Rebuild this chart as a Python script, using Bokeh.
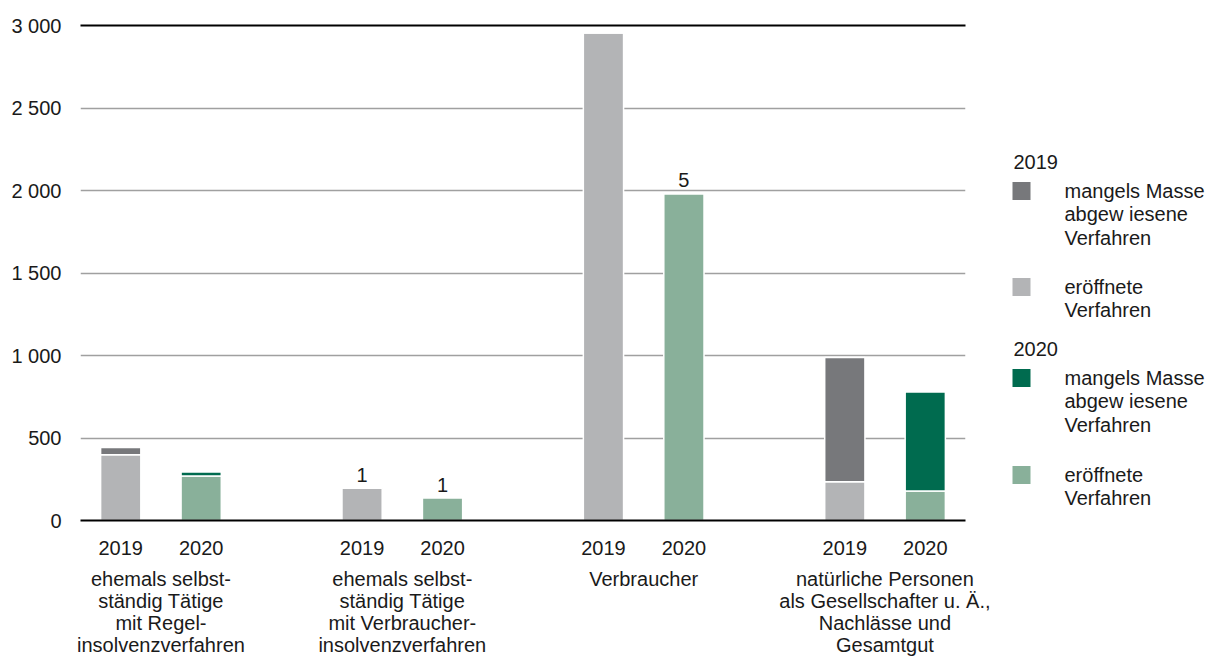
from bokeh.plotting import figure
from bokeh.models import Range1d, FixedTicker, LinearAxis, ColumnDataSource
from bokeh.layouts import row
from bokeh.embed import file_html
from bokeh.resources import INLINE
from bokeh.core.properties import value

# ---------------- data ----------------
groups = [
    "ehemals selbst-\nständig Tätige\nmit Regel-\ninsolvenzverfahren",
    "ehemals selbst-\nständig Tätige\nmit Verbraucher-\ninsolvenzverfahren",
    "Verbraucher",
    "natürliche Personen\nals Gesellschafter u. Ä.,\nNachlässe und\nGesamtgut",
]
years = ["2019", "2020"]
opened_2019 = [398, 196, 2955, 235]
dismissed_2019 = [44, 1, 0, 753]
opened_2020 = [270, 138, 1980, 179]
dismissed_2020 = [24, 1, 5, 600]
labels_2019 = ["", "1", "", ""]
labels_2020 = ["", "1", "5", ""]
y_ticks = [0, 500, 1000, 1500, 2000, 2500, 3000]
y_tick_labels = ["0", "500", "1 000", "1 500", "2 000", "2 500", "3 000"]
legend_titles = ["2019", "2020"]
legend_item_labels = [["mangels Masse", "abgew iesene", "Verfahren"], ["eröffnete", "Verfahren"]]

# ---------------- style ----------------
FONT = "Liberation Sans"
TXT = "#1a1a1a"
C_OPEN_19 = "#b3b4b6"
C_DISM_19 = "#77787b"
C_OPEN_20 = "#89b09a"
C_DISM_20 = "#006b4f"
GRID = "#a0a0a0"

# positions (x in half-units: group g occupies 6 units incl. padding)
x19 = [g * 6 + 1 for g in range(len(groups))]
x20 = [g * 6 + 3 for g in range(len(groups))]
xg = [g * 6 + 2 for g in range(len(groups))]

p = figure(x_range=Range1d(0, 22), y_range=Range1d(0, 3000),
           frame_width=885, frame_height=495,
           min_border_left=80, min_border_right=25, min_border_top=25, min_border_bottom=139,
           output_backend="svg", toolbar_location=None)
p.outline_line_color = None
p.xgrid.visible = False
p.ygrid.ticker = FixedTicker(ticks=y_ticks)
p.ygrid.grid_line_color = GRID
p.ygrid.grid_line_width = 1.5

# y axis
ya = p.yaxis[0]
ya.ticker = FixedTicker(ticks=y_ticks)
ya.major_label_overrides = {t: l for t, l in zip(y_ticks, y_tick_labels)}
ya.axis_line_color = None
ya.major_tick_line_color = None
ya.minor_tick_line_color = None
ya.major_label_standoff = 13
ya.major_label_text_font = FONT
ya.major_label_text_font_size = "20px"
ya.major_label_text_color = TXT

# x axis (years)
xa = p.xaxis[0]
xticks = sorted(x19 + x20)
xa.ticker = FixedTicker(ticks=xticks)
ov = {}
for a, b in zip(x19, x20):
    ov[a] = years[0]
    ov[b] = years[1]
xa.major_label_overrides = ov
xa.axis_line_color = "black"
xa.axis_line_width = 2
xa.major_tick_line_color = None
xa.minor_tick_line_color = None
xa.major_label_standoff = 14
xa.major_label_text_font = FONT
xa.major_label_text_font_size = "20px"
xa.major_label_text_color = TXT

# group axis
ga = LinearAxis(ticker=FixedTicker(ticks=xg),
                major_label_overrides={x: g for x, g in zip(xg, groups)})
ga.axis_line_color = None
ga.major_tick_line_color = None
ga.minor_tick_line_color = None
ga.major_label_standoff = 4
ga.major_label_text_font = FONT
ga.major_label_text_font_size = "20px"
ga.major_label_text_line_height = 1.0
ga.major_label_text_color = TXT
p.add_layout(ga, "below")

# top black rule at 3000 (axis line at frame top)
ta = LinearAxis(ticker=FixedTicker(ticks=[]))
ta.axis_line_color = "black"
ta.axis_line_width = 2
ta.major_tick_line_color = None
ta.minor_tick_line_color = None
ta.major_label_text_font_size = "0px"
p.add_layout(ta, "above")

# bars
top19 = [o + d for o, d in zip(opened_2019, dismissed_2019)]
top20 = [o + d for o, d in zip(opened_2020, dismissed_2020)]
src19 = ColumnDataSource(dict(x=x19, o=opened_2019, t=top19, lab=labels_2019))
src20 = ColumnDataSource(dict(x=x20, o=opened_2020, t=top20, lab=labels_2020))
for src, co, cd in [(src19, C_OPEN_19, C_DISM_19), (src20, C_OPEN_20, C_DISM_20)]:
    p.vbar(x="x", width=1.0, bottom=0, top="o", source=src, fill_color=co,
           line_color="white", line_width=1.5)
    p.vbar(x="x", width=1.0, bottom="o", top="t", source=src, fill_color=cd,
           line_color="white", line_width=1.5)
    p.text(x="x", y="t", text="lab", source=src, text_align="center", text_baseline="bottom",
           y_offset=-6, text_font=value(FONT), text_font_size="20px", text_color=TXT)

# ---------------- legend figure (frame aligned with main frame; data y = page y) ----------------
lf = figure(frame_width=220, frame_height=495, x_range=Range1d(990, 1210), y_range=Range1d(520, 25),
            min_border_left=0, min_border_right=0, min_border_top=25, min_border_bottom=139,
            output_backend="svg", toolbar_location=None,
            x_axis_location=None, y_axis_location=None)
lf.outline_line_color = None
lf.grid.visible = False

title_y = [161.7, 348]
item_y = [[190.5, 286.5], [377.5, 474.5]]
line_h = 23.3
colors_leg = [[C_DISM_19, C_OPEN_19], [C_DISM_20, C_OPEN_20]]
tx, ty, tt = [], [], []
sx, sy, sc = [], [], []
for b in range(2):
    tx.append(1013); ty.append(title_y[b]); tt.append(legend_titles[b])
    for i, lines in enumerate(legend_item_labels):
        sx.append(1021); sy.append(item_y[b][i]); sc.append(colors_leg[b][i])
        for j, ln in enumerate(lines):
            tx.append(1064); ty.append(item_y[b][i] + j * line_h); tt.append(ln)
lf.rect(x=sx, y=sy, width=18, height=18, fill_color=sc, line_color=None)
lf.text(x=tx, y=ty, text=tt, text_align="left", text_baseline="middle",
        text_font=value(FONT), text_font_size="20px", text_color=TXT)

layout = row(p, lf)
open("out.html", "w").write(file_html(layout, INLINE))
